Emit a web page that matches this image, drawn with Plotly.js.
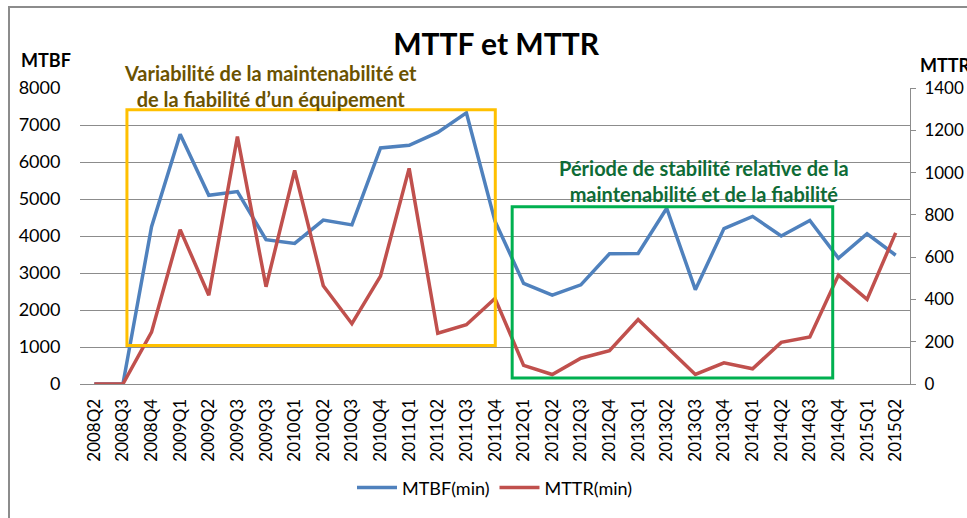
<!DOCTYPE html>
<html>
<head>
<meta charset="utf-8">
<script src="https://cdn.plot.ly/plotly-3.0.1.min.js"></script>
<style>
html,body{margin:0;padding:0;background:#fff;overflow:hidden;}
#frame{position:absolute;left:8px;top:6px;width:1000px;height:600px;border-left:2px solid #8c8c8c;border-top:2px solid #8c8c8c;}
#chart{position:absolute;left:0;top:0;width:967px;height:518px;}
</style>
</head>
<body>
<div id="frame"></div>
<div id="chart"></div>
<script>
const quarters = ["2008Q2","2008Q3","2008Q4","2009Q1","2009Q2","2009Q3","2009Q3","2010Q1","2010Q2","2010Q3","2010Q4","2011Q1","2011Q2","2011Q3","2011Q4","2012Q1","2012Q2","2012Q3","2012Q4","2013Q1","2013Q2","2013Q3","2013Q4","2014Q1","2014Q2","2014Q3","2014Q4","2015Q1","2015Q2"];
const mtbf = [0,0,4250,6750,5100,5200,3900,3800,4430,4300,6380,6450,6800,7330,4400,2720,2400,2680,3520,3530,4750,2550,4200,4530,4000,4420,3400,4060,3480];
const mttr = [0,0,245,730,420,1170,460,1010,465,285,510,1020,240,280,405,88,45,122,158,305,175,45,100,72,197,222,515,400,715];
const idx = quarters.map((q,i)=>i);

const font = "Lato, 'Open Sans', sans-serif";

const traces = [
  {x: idx, y: mtbf, type:'scatter', mode:'lines', name:'MTBF(min)', yaxis:'y',
   line:{color:'#4F81BD', width:3.5}},
  {x: idx, y: mttr, type:'scatter', mode:'lines', name:'MTTR(min)', yaxis:'y2',
   line:{color:'#C0504D', width:3.5}}
];

const layout = {
  width:967, height:518,
  margin:{l:80, r:57, t:88, b:131},
  paper_bgcolor:'rgba(0,0,0,0)', plot_bgcolor:'rgba(0,0,0,0)',
  font:{family:font, size:16, color:'#000'},
  title:{text:'<b>MTTF et MTTR</b>', font:{family:font, size:30, color:'#000'},
         xref:'container', x:0.513, xanchor:'center', yref:'container', y:0.915, yanchor:'middle'},
  showlegend:true,
  legend:{orientation:'h', xref:'paper', x:0.5, xanchor:'center', yref:'paper', y:-0.351, yanchor:'middle',
          font:{family:font, size:18, color:'#000'}, itemwidth:40, tracegroupgap:0},
  xaxis:{range:[-0.5,28.5], tickvals:idx, ticktext:quarters, tickangle:-90,
         showgrid:false, zeroline:false, showline:true, linecolor:'#8c8c8c', linewidth:1,
         ticks:'outside', ticklen:7, tickcolor:'rgba(0,0,0,0)',
         tickfont:{family:font, size:17, color:'#000'}, fixedrange:true},
  yaxis:{range:[0,8000], tickvals:[0,1000,2000,3000,4000,5000,6000,7000,8000],
         showgrid:true, gridcolor:'#8c8c8c', gridwidth:1, zeroline:false, showline:false,
         ticks:'outside', ticklen:15, tickcolor:'rgba(0,0,0,0)',
         tickfont:{family:font, size:18, color:'#000'}},
  yaxis2:{range:[0,1400], tickvals:[0,200,400,600,800,1000,1200,1400], overlaying:'y', side:'right',
          showgrid:false, zeroline:false, showline:true, linecolor:'#8c8c8c', linewidth:1,
          ticks:'outside', ticklen:5, tickcolor:'#8c8c8c', ticklabelstandoff:5,
          tickfont:{family:font, size:17, color:'#000'}},
  shapes:[
    {type:'rect', xref:'x', yref:'y', x0:1.14, x1:14.01, y0:1043, y1:7411,
     line:{color:'#FFC000', width:3}, fillcolor:'rgba(0,0,0,0)'},
    {type:'rect', xref:'x', yref:'y', x0:14.6, x1:25.8, y0:160, y1:4789,
     line:{color:'#00B050', width:3}, fillcolor:'rgba(0,0,0,0)'}
  ],
  annotations:[
    {text:'<b>MTBF</b>', xref:'paper', yref:'paper', x:-0.0735, y:1.0936, xanchor:'left', yanchor:'middle',
     showarrow:false, font:{family:font, size:18, color:'#000'}},
    {text:'<b>MTTR</b>', xref:'paper', yref:'paper', x:1.010, y:1.078, xanchor:'left', yanchor:'middle',
     showarrow:false, font:{family:font, size:18, color:'#000'}},
    {text:'<b>Variabilité de la maintenabilité et<br>de la fiabilité d’un équipement</b>', xref:'paper', yref:'paper',
     x:0.229, y:1.008, xanchor:'center', yanchor:'middle', align:'center', showarrow:false,
     font:{family:font, size:20, color:'#6B5200'}},
    {text:'<b>Période de stabilité relative de la<br>maintenabilité et de la fiabilité</b>', xref:'paper', yref:'paper',
     x:0.752, y:0.686, xanchor:'center', yanchor:'middle', align:'center', showarrow:false,
     font:{family:font, size:20, color:'#0E6B36'}}
  ]
};

Plotly.newPlot('chart', traces, layout, {displayModeBar:false, staticPlot:true});
</script>
</body>
</html>
